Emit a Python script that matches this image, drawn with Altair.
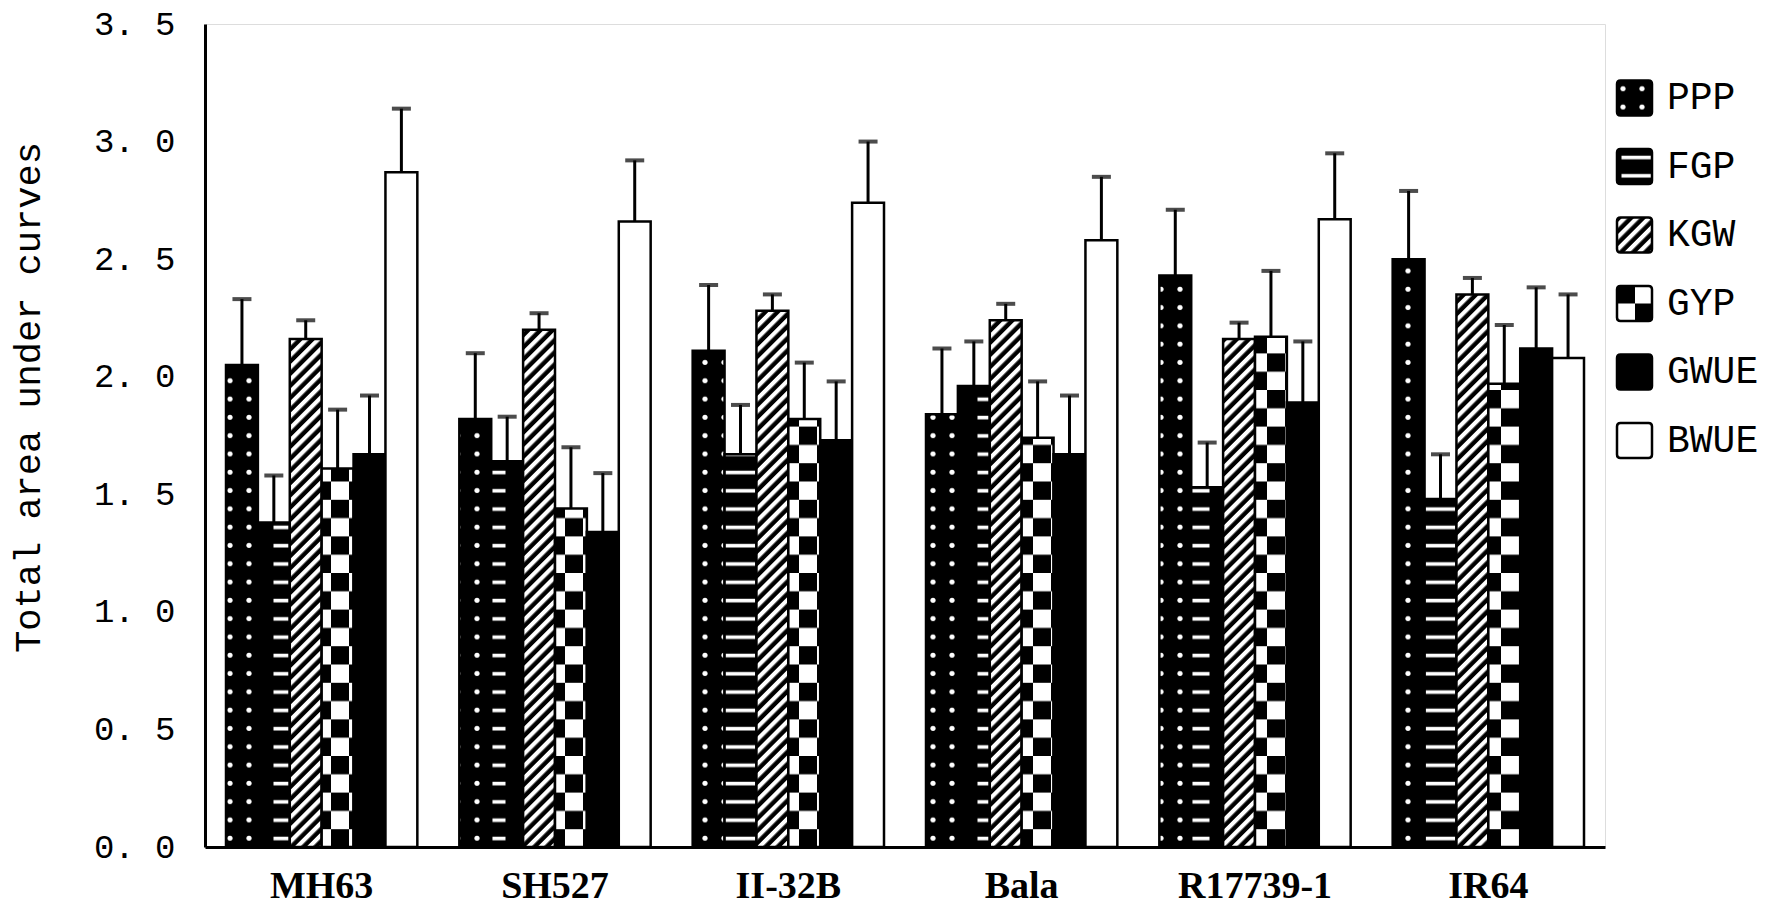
import altair as alt
import pandas as pd
import jinja2

categories = ["MH63", "SH527", "II-32B", "Bala", "R17739-1", "IR64"]
series = ["PPP", "FGP", "KGW", "GYP", "GWUE", "BWUE"]

PPP = [2.05, 1.82, 2.11, 1.84, 2.43, 2.50]
FGP = [1.38, 1.64, 1.67, 1.96, 1.53, 1.48]
KGW = [2.16, 2.20, 2.28, 2.24, 2.16, 2.35]
GYP = [1.61, 1.44, 1.82, 1.74, 2.17, 1.97]
GWUE = [1.67, 1.34, 1.73, 1.67, 1.89, 2.12]
BWUE = [2.87, 2.66, 2.74, 2.58, 2.67, 2.08]

PPP_err = [0.28, 0.28, 0.28, 0.28, 0.28, 0.29]
FGP_err = [0.20, 0.19, 0.21, 0.19, 0.19, 0.19]
KGW_err = [0.08, 0.07, 0.07, 0.07, 0.07, 0.07]
GYP_err = [0.25, 0.26, 0.24, 0.24, 0.28, 0.25]
GWUE_err = [0.25, 0.25, 0.25, 0.25, 0.26, 0.26]
BWUE_err = [0.27, 0.26, 0.26, 0.27, 0.28, 0.27]

y_ticks = [0, 0.5, 1, 1.5, 2, 2.5, 3, 3.5]

vals = {"PPP": PPP, "FGP": FGP, "KGW": KGW, "GYP": GYP, "GWUE": GWUE, "BWUE": BWUE}
errs = {"PPP": PPP_err, "FGP": FGP_err, "KGW": KGW_err, "GYP": GYP_err,
        "GWUE": GWUE_err, "BWUE": BWUE_err}

rows = []
for s in series:
    for i, c in enumerate(categories):
        rows.append({"cultivar": c, "trait": s, "value": vals[s][i],
                     "upper": round(vals[s][i] + errs[s][i], 3)})
df = pd.DataFrame(rows)

fills = ["url(#pPPP)", "url(#pFGP)", "url(#pKGW)", "url(#pGYP)", "black", "white"]

x_axis = alt.Axis(title=None, labelAngle=0, labelAlign="center", labelBaseline="top",
                  ticks=False, domainWidth=3, domainColor="black",
                  labelFont="Liberation Serif", labelFontWeight="bold", labelFontSize=38,
                  labelColor="black", labelPadding=20)
y_axis = alt.Axis(title="Total area under curves", values=y_ticks,
                  labelExpr="replace(format(datum.value, '.1f'), '.', '. ')",
                  ticks=False, grid=False, domainWidth=3, domainColor="black",
                  labelFont="Liberation Mono", labelFontSize=34, labelColor="black",
                  labelPadding=30, titleFont="Liberation Mono", titleFontSize=37,
                  titleFontWeight="normal", titleColor="black",
                  titleX=-177, titleY=373, titleAngle=270,
                  titleAlign="center", titleBaseline="middle")

x_scale = alt.Scale(paddingInner=0.18, paddingOuter=0.09)
xo_scale = alt.Scale(paddingInner=0, paddingOuter=0)
y_scale = alt.Scale(domain=[0, 3.5], nice=False)

legend_symbol = ("M0.2,-1H1.8Q2,-1 2,-0.8V0.8Q2,1 1.8,1H0.2Q0,1 0,0.8V-0.8Q0,-1 0.2,-1Z")

bars = alt.Chart(df).mark_bar(stroke="black", strokeWidth=2.5).encode(
    x=alt.X("cultivar:N", sort=categories, scale=x_scale, axis=x_axis),
    xOffset=alt.XOffset("trait:N", sort=series, scale=xo_scale),
    y=alt.Y("value:Q", scale=y_scale, axis=y_axis),
    fill=alt.Fill("trait:N", sort=series,
                  scale=alt.Scale(domain=series, range=fills),
                  legend=alt.Legend(title=None, orient="none", legendX=1393, legendY=55,
                                    symbolType=legend_symbol, symbolSize=1225,
                                    symbolStrokeColor="black", symbolStrokeWidth=2.5,
                                    symbolOpacity=1, labelFont="Liberation Mono",
                                    labelFontSize=38, labelColor="black", labelOffset=31,
                                    rowPadding=22.5, padding=0, labelLimit=300)),
)

stems = alt.Chart(df).mark_rule(color="black", strokeWidth=3).encode(
    x=alt.X("cultivar:N", sort=categories, scale=x_scale, axis=x_axis),
    xOffset=alt.XOffset("trait:N", sort=series, scale=xo_scale),
    y=alt.Y("value:Q", scale=y_scale, axis=y_axis),
    y2="upper:Q",
)

caps = alt.Chart(df).mark_tick(color="black", thickness=4, size=19).encode(
    x=alt.X("cultivar:N", sort=categories, scale=x_scale, axis=x_axis),
    xOffset=alt.XOffset("trait:N", sort=series, scale=xo_scale),
    y=alt.Y("upper:Q", scale=y_scale, axis=y_axis),
)

chart = alt.layer(stems, bars, caps).properties(
    width=1400, height=823,
    autosize=alt.AutoSizeParams(type="none"),
    padding={"left": 197, "top": 16, "right": 159, "bottom": 63},
).configure_view(strokeWidth=0).configure(background="white")

PATTERNS = """
<svg width="0" height="0" style="position:absolute;width:0;height:0" aria-hidden="true">
<defs>
<pattern id="pPPP" patternUnits="userSpaceOnUse" width="19" height="18.3">
  <rect width="19" height="18.3" fill="black"/>
  <circle cx="6" cy="9" r="2.6" fill="white"/>
</pattern>
<pattern id="pFGP" patternUnits="userSpaceOnUse" width="64" height="18.3">
  <rect width="64" height="18.3" fill="black"/>
  <rect x="4.5" y="7.5" width="40" height="3.6" fill="white"/>
</pattern>
<pattern id="pKGW" patternUnits="userSpaceOnUse" width="8.6" height="8.6" patternTransform="rotate(45)">
  <rect width="8.6" height="8.6" fill="black"/>
  <rect width="4.2" height="8.6" fill="white"/>
</pattern>
<pattern id="pGYP" patternUnits="userSpaceOnUse" width="36" height="36.6">
  <rect width="36" height="36.6" fill="black"/>
  <rect x="0" y="0" width="18" height="18.3" fill="white"/>
  <rect x="18" y="18.3" width="18" height="18.3" fill="white"/>
</pattern>
</defs>
</svg>
"""

TEMPLATE = jinja2.Template("""<!DOCTYPE html>
<html>
<head>
<meta charset="utf-8">
<script type="text/javascript" src="{{ base_url }}/vega@{{ vega_version }}"></script>
<script type="text/javascript" src="{{ base_url }}/vega-lite@{{ vegalite_version }}"></script>
<script type="text/javascript" src="{{ base_url }}/vega-embed@{{ vegaembed_version }}"></script>
</head>
<body>
""" + PATTERNS + """
<div id="{{ output_div }}"></div>
<script type="text/javascript">
  var spec = {{ spec }};
  var embedOpt = {{ embed_options }};
  vegaEmbed("#{{ output_div }}", spec, embedOpt).catch(console.error);
</script>
</body>
</html>
""")

chart.save("out.html", embed_options={"renderer": "svg", "actions": False}, template=TEMPLATE)
